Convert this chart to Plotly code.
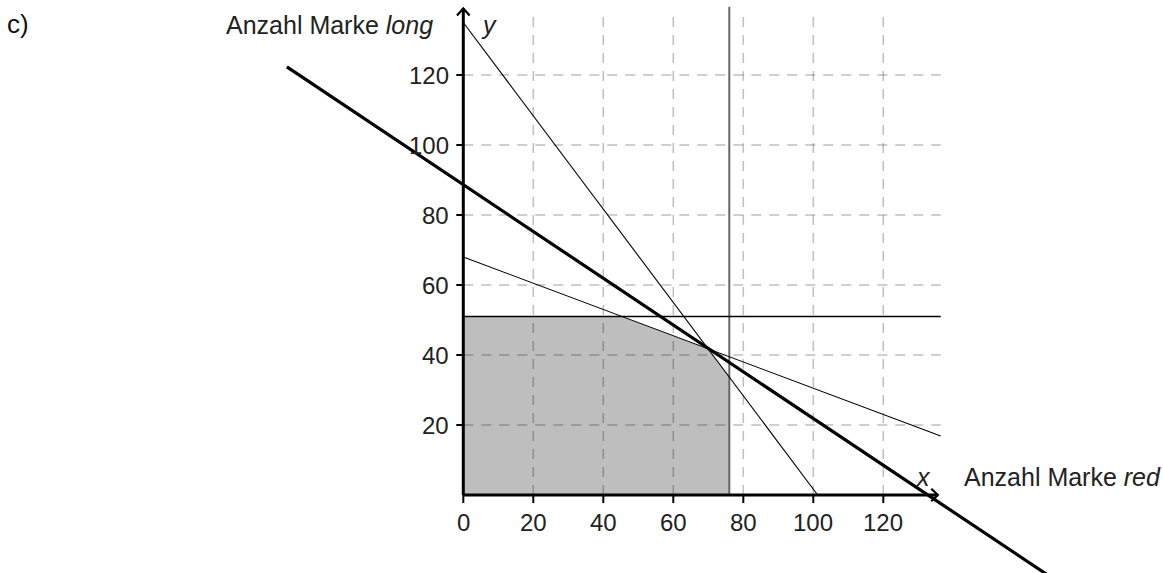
import plotly.graph_objects as go

# ---- data ----
tick_values = [20, 40, 60, 80, 100, 120]
x_tick_labels = ["0", "20", "40", "60", "80", "100", "120"]
x_tick_values = [0, 20, 40, 60, 80, 100, 120]
y_tick_labels = ["20", "40", "60", "80", "100", "120"]

# constraint lines (x, y endpoints)
steep_x = [0, 101.25]
steep_y = [135, 0]
shallow_x = [0, 136.4]
shallow_y = [68, 16.85]
horiz_x = [0, 136.4]
horiz_y = [51, 51]
vert_x = [76, 76]
vert_y = [0, 139.5]
# objective line
obj_x = [-50.4, 185]
obj_y = [122.3, -34.9]
# feasible region
region_x = [0, 0, 45.3, 69.9, 76, 76, 0]
region_y = [0, 51, 51, 41.8, 33.7, 0, 0]

x_axis_end = 135.6
y_axis_end = 139.0
grid_x_end = 136.4
grid_y_end = 137.7

# pixel placement of the origin inside the figure
X0_PX = 463.3
Y0_PX = 495
PX_PER_UNIT = 3.5

fig = go.Figure()

fig.add_trace(go.Scatter(x=region_x, y=region_y, fill="toself", fillcolor="#bebebe",
                         line=dict(width=0), mode="lines", hoverinfo="skip"))

grid_color = "rgba(0,0,0,0.25)"
for v in tick_values:
    fig.add_trace(go.Scatter(x=[v, v], y=[0, grid_y_end], mode="lines",
                             line=dict(color=grid_color, width=1.5, dash="10px,8px")))
    fig.add_trace(go.Scatter(x=[0, grid_x_end], y=[v, v], mode="lines",
                             line=dict(color=grid_color, width=1.5, dash="10px,8px")))

fig.add_trace(go.Scatter(x=vert_x, y=vert_y, mode="lines", line=dict(color="#666666", width=2)))
fig.add_trace(go.Scatter(x=horiz_x, y=horiz_y, mode="lines", line=dict(color="black", width=1.3)))
fig.add_trace(go.Scatter(x=steep_x, y=steep_y, mode="lines", line=dict(color="black", width=1.1)))
fig.add_trace(go.Scatter(x=shallow_x, y=shallow_y, mode="lines", line=dict(color="black", width=1.1)))

# axes
fig.add_trace(go.Scatter(x=[0, x_axis_end], y=[0, 0], mode="lines", line=dict(color="black", width=3)))
fig.add_trace(go.Scatter(x=[0, 0], y=[0, y_axis_end], mode="lines", line=dict(color="black", width=3)))
# arrow chevrons
fig.add_trace(go.Scatter(x=[x_axis_end - 1.9, x_axis_end, x_axis_end - 1.9], y=[1.8, 0, -1.8],
                         mode="lines", line=dict(color="black", width=2.2)))
fig.add_trace(go.Scatter(x=[-1.8, 0, 1.8], y=[y_axis_end - 2.0, y_axis_end, y_axis_end - 2.0],
                         mode="lines", line=dict(color="black", width=2.2)))
# tick marks
for v in x_tick_values:
    fig.add_trace(go.Scatter(x=[v, v], y=[0, -2.3], mode="lines", line=dict(color="black", width=2)))
for v in tick_values:
    fig.add_trace(go.Scatter(x=[0, -2.0], y=[v, v], mode="lines", line=dict(color="black", width=2)))

fig.add_trace(go.Scatter(x=obj_x, y=obj_y, mode="lines", line=dict(color="black", width=3.2)))

font = dict(family="Liberation Sans, Arial, sans-serif", size=24, color="#222222")
lfont = dict(family="Liberation Sans, Arial, sans-serif", size=25, color="#222222")
ann = []
for v, lab in zip(x_tick_values, x_tick_labels):
    ann.append(dict(x=v, y=-7.8, text=lab, showarrow=False, xanchor="center", yanchor="middle", font=font))
for v, lab in zip(tick_values, y_tick_labels):
    ann.append(dict(x=-3.4, y=v, text=lab, showarrow=False, xanchor="right", yanchor="middle", font=font))
ann.append(dict(x=-8.1, y=134.4, text="Anzahl Marke <i>long</i>", showarrow=False,
                xanchor="right", yanchor="middle", font=lfont))
ann.append(dict(x=7.2, y=134.2, text="<i>y</i>", showarrow=False, xanchor="center", yanchor="middle", font=lfont))
ann.append(dict(x=131.6, y=5.1, text="<i>x</i>", showarrow=False, xanchor="center", yanchor="middle", font=lfont))
ann.append(dict(x=142.4, y=5.1, text="Anzahl Marke <i>red</i>", showarrow=False,
                xanchor="left", yanchor="middle", font=lfont))
ann.append(dict(x=5 / 1163, xref="paper", y=134.5, text="c)", showarrow=False,
                xanchor="left", yanchor="middle",
                font=dict(family="Liberation Sans, Arial, sans-serif", size=26, color="#111111")))

fig.update_layout(
    width=1163, height=573,
    margin=dict(l=0, r=0, t=0, b=0),
    paper_bgcolor="white", plot_bgcolor="white",
    showlegend=False,
    xaxis=dict(range=[-X0_PX / PX_PER_UNIT, (1163 - X0_PX) / PX_PER_UNIT], visible=False, fixedrange=True),
    yaxis=dict(range=[(Y0_PX - 573) / PX_PER_UNIT, Y0_PX / PX_PER_UNIT], visible=False, fixedrange=True),
    annotations=ann,
    hovermode=False,
)

fig.write_html("out.html", config={"displayModeBar": False},
               post_script="document.body.style.margin='0';document.body.style.overflow='hidden';")
